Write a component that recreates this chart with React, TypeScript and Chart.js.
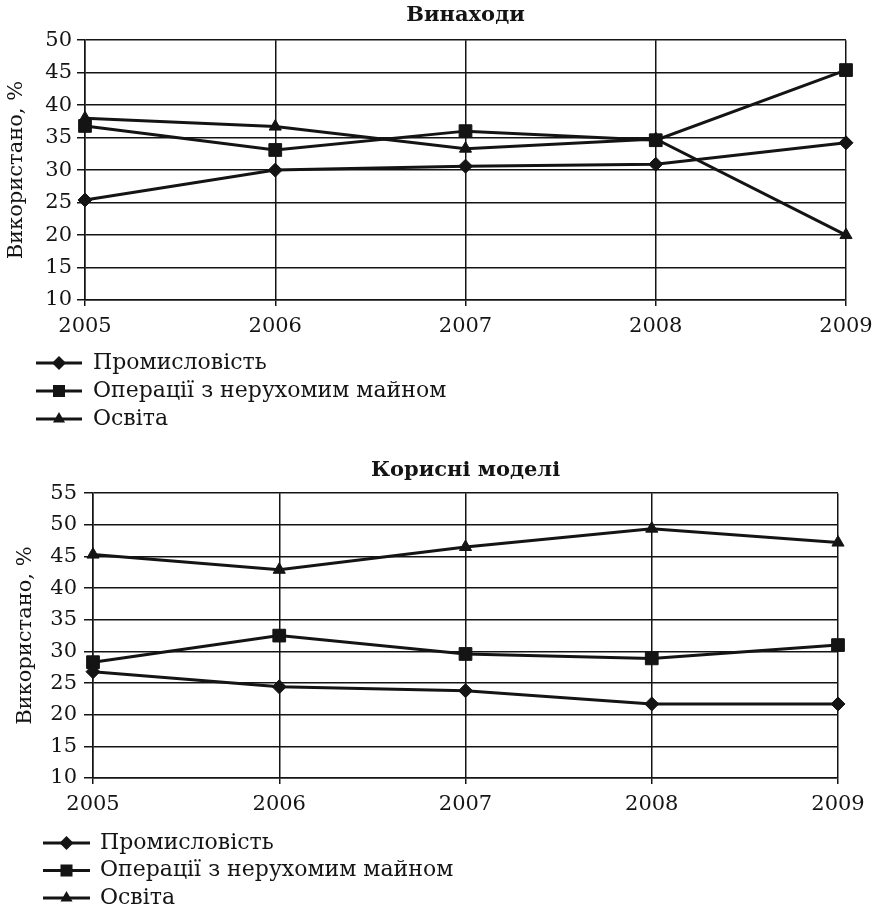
import React, { useEffect, useRef } from 'react';
import { Chart, registerables } from 'chart.js';

Chart.register(...registerables);

const FONT = '"DejaVu Serif", "Liberation Serif", serif';
const INK = '#141414';

// ---- data ----
const years = ['2005', '2006', '2007', '2008', '2009'];
const seriesNames = ['Промисловість', 'Операції з нерухомим майном', 'Освіта'];
const pointStyles = ['rectRot', 'rect', 'triangle'];
const pointRadii = [7, 9, 7];

const inventionsTitle = 'Винаходи';
const inventionsIndustry = [25.4, 30.0, 30.6, 30.9, 34.2];
const inventionsRealEstate = [36.8, 33.1, 36.0, 34.6, 45.4];
const inventionsEducation = [38.0, 36.7, 33.3, 34.8, 20.0];
const inventionsAxis = { min: 10, max: 50, step: 5 };

const utilityTitle = 'Корисні моделі';
const utilityIndustry = [26.8, 24.4, 23.8, 21.7, 21.7];
const utilityRealEstate = [28.3, 32.5, 29.6, 28.9, 31.0];
const utilityEducation = [45.3, 42.9, 46.5, 49.4, 47.2];
const utilityAxis = { min: 10, max: 55, step: 5 };

const yAxisTitle = 'Використано, %';

type Spec = {
  title: string;
  series: number[][];
  axis: { min: number; max: number; step: number };
  top: number;
  height: number;
  titlePadTop: number;
  titlePadBottom: number;
  yAxisWidth: number;
  yTitlePad: number;
  yTickLen: number;
  yTickPad: number;
  padRight: number;
  padBottom: number;
  legendX1: number;
  legendX2: number;
  legendTextX: number;
  legendY0: number;
  legendGap: number;
};

const inventionsSpec: Spec = {
  title: inventionsTitle,
  series: [inventionsIndustry, inventionsRealEstate, inventionsEducation],
  axis: inventionsAxis,
  top: 0,
  height: 445,
  titlePadTop: 3,
  titlePadBottom: 13,
  yAxisWidth: 85,
  yTitlePad: 4,
  yTickLen: 8,
  yTickPad: 5,
  padRight: 35,
  padBottom: 105,
  legendX1: 36,
  legendX2: 82,
  legendTextX: 93,
  legendY0: 363,
  legendGap: 28,
};

const utilitySpec: Spec = {
  title: utilityTitle,
  series: [utilityIndustry, utilityRealEstate, utilityEducation],
  axis: utilityAxis,
  top: 445,
  height: 465,
  titlePadTop: 13,
  titlePadBottom: 11,
  yAxisWidth: 93,
  yTitlePad: 13,
  yTickLen: 9,
  yTickPad: 7,
  padRight: 43,
  padBottom: 92,
  legendX1: 43,
  legendX2: 90,
  legendTextX: 100,
  legendY0: 843 - 445,
  legendGap: 27.5,
};

function drawMarker(ctx: CanvasRenderingContext2D, style: string, x: number, y: number, r: number) {
  ctx.beginPath();
  if (style === 'rectRot') {
    ctx.moveTo(x, y - r);
    ctx.lineTo(x + r, y);
    ctx.lineTo(x, y + r);
    ctx.lineTo(x - r, y);
  } else if (style === 'rect') {
    const s = r * Math.SQRT1_2;
    ctx.rect(x - s, y - s, 2 * s, 2 * s);
  } else {
    const a = Math.sin(Math.PI / 3) * r;
    ctx.moveTo(x, y - r);
    ctx.lineTo(x + a, y + r / 2);
    ctx.lineTo(x - a, y + r / 2);
  }
  ctx.closePath();
  ctx.fill();
}

function makeLegendPlugin(spec: Spec) {
  return {
    id: 'listLegend',
    afterDraw(chart: any) {
      const ctx: CanvasRenderingContext2D = chart.ctx;
      ctx.save();
      chart.data.datasets.forEach((ds: any, i: number) => {
        const y = spec.legendY0 + i * spec.legendGap;
        ctx.strokeStyle = INK;
        ctx.fillStyle = INK;
        ctx.lineWidth = 3;
        ctx.beginPath();
        ctx.moveTo(spec.legendX1, y);
        ctx.lineTo(spec.legendX2, y);
        ctx.stroke();
        const r = ds.pointStyle === 'rect' ? 8.5 : 7;
        drawMarker(ctx, ds.pointStyle, (spec.legendX1 + spec.legendX2) / 2, y, r);
        ctx.font = `22px ${FONT}`;
        ctx.textBaseline = 'middle';
        ctx.textAlign = 'left';
        ctx.fillText(ds.label, spec.legendTextX, y);
      });
      ctx.restore();
    },
  };
}

function LineChart({ spec }: { spec: Spec }) {
  const ref = useRef<HTMLCanvasElement>(null);
  useEffect(() => {
    if (!ref.current) return;
    const chart = new Chart(ref.current, {
      type: 'line',
      data: {
        labels: years,
        datasets: spec.series.map((values, i) => ({
          label: seriesNames[i],
          data: values,
          borderColor: INK,
          backgroundColor: INK,
          borderWidth: 3,
          tension: 0,
          pointStyle: pointStyles[i] as any,
          pointRadius: pointRadii[i],
          pointBackgroundColor: INK,
          pointBorderColor: INK,
          pointBorderWidth: 1,
          clip: false as any,
        })),
      },
      options: {
        responsive: false,
        animation: false,
        devicePixelRatio: 1,
        layout: {
          padding: { top: 0, left: 0, right: spec.padRight, bottom: spec.padBottom },
        },
        plugins: {
          legend: { display: false },
          tooltip: { enabled: false },
          title: {
            display: true,
            fullSize: false,
            text: spec.title,
            color: INK,
            font: { family: FONT, size: 21, weight: 'bold' },
            padding: { top: spec.titlePadTop, bottom: spec.titlePadBottom - 1 },
          },
        },
        scales: {
          x: {
            offset: false,
            grid: { color: INK, lineWidth: 1.5, tickLength: 6, drawTicks: true },
            border: { display: true, color: INK, width: 1.5 },
            ticks: {
              color: INK,
              font: { family: FONT, size: 21 },
              padding: 8,
              maxRotation: 0,
              autoSkip: false,
            },
            afterFit: (scale: any) => {
              scale.height = 40;
            },
          },
          y: {
            min: spec.axis.min,
            max: spec.axis.max,
            grid: { color: INK, lineWidth: 1.5, tickLength: spec.yTickLen, drawTicks: true },
            border: { display: true, color: INK, width: 1.5 },
            ticks: {
              stepSize: spec.axis.step,
              color: INK,
              font: { family: FONT, size: 21 },
              padding: spec.yTickPad,
            },
            title: {
              display: true,
              text: yAxisTitle,
              color: INK,
              font: { family: FONT, size: 21 },
              padding: { top: spec.yTitlePad, bottom: 0 },
            },
            afterFit: (scale: any) => {
              scale.width = spec.yAxisWidth;
            },
          },
        },
      },
      plugins: [makeLegendPlugin(spec)],
    } as any);
    return () => chart.destroy();
  }, [spec]);
  return (
    <canvas
      ref={ref}
      width={881}
      height={spec.height}
      style={{ position: 'absolute', left: 0, top: spec.top, width: 881, height: spec.height, display: 'block' }}
    />
  );
}

export default function App() {
  useEffect(() => {
    document.body.style.margin = '0';
    document.body.style.background = '#ffffff';
  }, []);
  return (
    <div style={{ position: 'relative', width: 881, height: 910, background: '#ffffff' }}>
      <LineChart spec={inventionsSpec} />
      <LineChart spec={utilitySpec} />
    </div>
  );
}
